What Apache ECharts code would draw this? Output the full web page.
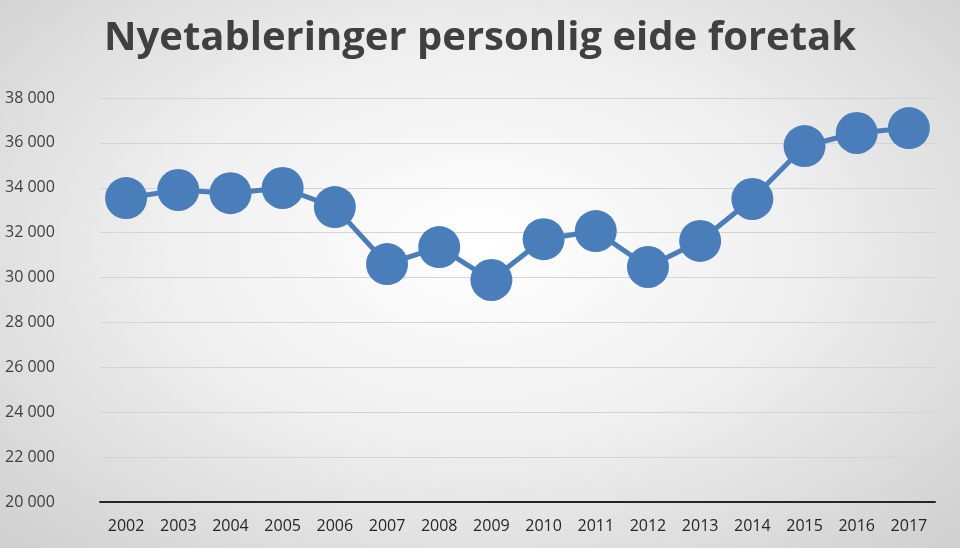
<!DOCTYPE html>
<html><head><meta charset="utf-8">
<script src="https://cdn.jsdelivr.net/npm/echarts@6/dist/echarts.min.js"></script>
<style>html,body{margin:0;padding:0}#c{width:960px;height:548px;background:radial-gradient(ellipse at 50% 45%,#ffffff 0%,#f0f0f0 45%,#cfcfcf 100%);}</style>
</head><body><div id="c"></div>
<script>
const years=['2002','2003','2004','2005','2006','2007','2008','2009','2010','2011','2012','2013','2014','2015','2016','2017'];
const values=[33540,33900,33760,33990,33140,30600,31360,29890,31710,32070,30470,31630,33500,35860,36440,36660];
const chart=echarts.init(document.getElementById('c'));
chart.setOption({
 title:{text:'Nyetableringer personlig eide foretak',left:'center',top:14,textStyle:{fontFamily:'Open Sans',fontSize:40,fontWeight:'bold',color:'#404040'}},
 grid:{left:100,right:25,top:98,bottom:46},
 xAxis:{type:'category',data:years,axisTick:{show:false},axisLine:{lineStyle:{color:'#262626',width:2}},
  axisLabel:{color:'#262626',fontSize:16,fontFamily:'Open Sans',margin:16}},
 yAxis:{type:'value',min:20000,max:38000,interval:2000,axisLine:{show:false},
  splitLine:{lineStyle:{color:'#d4d4d4'}},
  axisLabel:{color:'#404040',fontSize:16,fontFamily:'Open Sans',margin:95,align:'left',formatter:v=>String(v).replace(/(\d{2})(\d{3})$/,'$1 $2')}},
 series:[{type:'line',data:values,symbol:'circle',symbolSize:42,lineStyle:{color:'#4a7ebb',width:5},itemStyle:{color:'#4a7ebb'},animation:false}]
});
</script></body></html>
